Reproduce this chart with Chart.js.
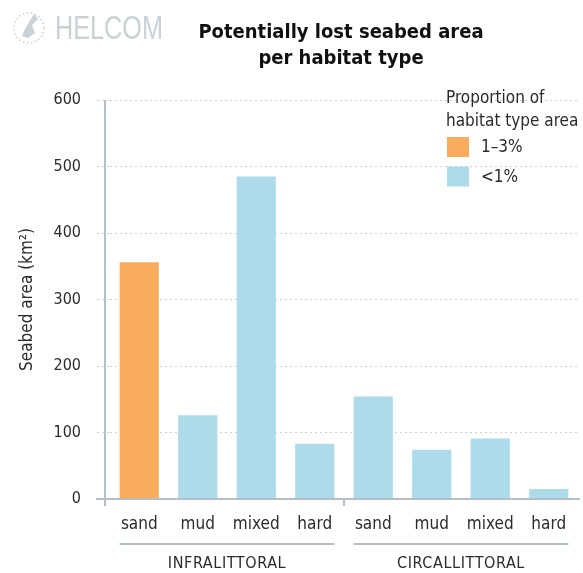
<!DOCTYPE html>
<html>
<head>
<meta charset="utf-8">
<script src="https://cdn.jsdelivr.net/npm/chart.js@4.4.1/dist/chart.umd.min.js"></script>
<style>
  html, body { margin: 0; padding: 0; background: #ffffff; }
  #wrap { width: 583px; height: 573px; position: relative; }
</style>
</head>
<body>
<div id="wrap"><canvas id="c" width="583" height="573"></canvas></div>
<script>
// ---- data ----
const categories = ['sand', 'mud', 'mixed', 'hard', 'sand', 'mud', 'mixed', 'hard'];
const seabedArea = [356, 126, 485, 83, 154, 74, 91, 15];
const proportionClass = ['1–3%', '<1%', '<1%', '<1%', '<1%', '<1%', '<1%', '<1%'];
const groupNames = ['INFRALITTORAL', 'CIRCALLITTORAL'];
const groupSizes = [4, 4];
const legendLabels = ['1–3%', '<1%'];
const legendTitle = ['Proportion of', 'habitat type area'];
const titleLines = ['Potentially lost seabed area', 'per habitat type'];
const yAxisTitle = 'Seabed area (km²)';
const yMin = 0, yMax = 600, yStep = 100;

// ---- styles ----
const classColors = { '1–3%': '#F9AC5E', '<1%': '#ADDBEA' };
const FONT = "'DejaVu Sans Condensed', 'DejaVu Sans', sans-serif";
const TEXT = '#2b2b2b';
const AXIS = '#b3bec6';

const decorPlugin = {
  id: 'decor',
  afterDraw(chart) {
    const ctx = chart.ctx;
    const ca = chart.chartArea;
    const y = chart.scales.y;
    const meta = chart.getDatasetMeta(0);
    const y0 = y.getPixelForValue(0);
    ctx.save();
    // axis lines
    ctx.strokeStyle = AXIS;
    ctx.lineWidth = 2;
    const axX = ca.left - 5;
    ctx.beginPath();
    ctx.moveTo(axX, y.getPixelForValue(yMax));
    ctx.lineTo(axX, y0 + 7);
    ctx.stroke();
    ctx.beginPath();
    ctx.moveTo(ca.left - 14, y0);
    ctx.lineTo(ca.right + 2, y0);
    ctx.stroke();
    // group divider tick + group lines + labels
    let start = 0;
    groupSizes.forEach((n, gi) => {
      const first = meta.data[start], last = meta.data[start + n - 1];
      const x1 = first.x - first.width / 2, x2 = last.x + last.width / 2;
      if (gi > 0) {
        const prev = meta.data[start - 1];
        const mid = (prev.x + first.x) / 2;
        ctx.beginPath();
        ctx.moveTo(mid, y0);
        ctx.lineTo(mid, y0 + 7);
        ctx.stroke();
      }
      ctx.beginPath();
      ctx.moveTo(x1, y0 + 45);
      ctx.lineTo(x2, y0 + 45);
      ctx.stroke();
      ctx.fillStyle = TEXT;
      ctx.font = "16px " + FONT;
      ctx.letterSpacing = '0.6px';
      ctx.textAlign = 'center';
      ctx.textBaseline = 'middle';
      ctx.fillText(groupNames[gi], (x1 + x2) / 2, y0 + 65);
      ctx.letterSpacing = '0px';
      start += n;
    });
    // title
    ctx.fillStyle = '#111111';
    ctx.font = "bold 20px " + FONT;
    ctx.textAlign = 'center';
    ctx.textBaseline = 'alphabetic';
    ctx.fillText(titleLines[0], 341, 38);
    ctx.fillText(titleLines[1], 341, 64);
    // HELCOM logo text (horizontally condensed)
    ctx.fillStyle = '#cbd2d6';
    ctx.font = "33px 'Liberation Sans', sans-serif";
    ctx.textAlign = 'left';
    const w = ctx.measureText('HELCOM').width;
    ctx.save();
    ctx.translate(55, 39);
    ctx.scale(108 / w, 1);
    ctx.fillText('HELCOM', 0, 0);
    ctx.restore();
    // simple emblem
    ctx.strokeStyle = '#cbd2d6';
    ctx.lineWidth = 1.5;
    ctx.setLineDash([1.5, 2.5]);
    ctx.beginPath();
    ctx.arc(29, 28, 15, 0, Math.PI * 2);
    ctx.stroke();
    ctx.setLineDash([]);
    ctx.fillStyle = '#cbd2d6';
    ctx.beginPath();
    ctx.moveTo(34, 14); ctx.lineTo(38, 19); ctx.lineTo(32, 25); ctx.lineTo(35, 33);
    ctx.lineTo(28, 38); ctx.lineTo(22, 36); ctx.lineTo(25, 29); ctx.lineTo(29, 22);
    ctx.closePath(); ctx.fill();
    // legend
    ctx.fillStyle = TEXT;
    ctx.font = "17px " + FONT;
    ctx.textAlign = 'left';
    ctx.fillText(legendTitle[0], 446, 103);
    ctx.fillText(legendTitle[1], 446, 126);
    legendLabels.forEach((lab, i) => {
      const top = 137 + i * 29.5;
      ctx.fillStyle = classColors[lab];
      ctx.fillRect(447, top, 22, 20);
      ctx.fillStyle = TEXT;
      ctx.textBaseline = 'middle';
      ctx.fillText(lab, 481, top + 11);
    });
    ctx.restore();
  }
};

new Chart(document.getElementById('c'), {
  type: 'bar',
  data: {
    labels: categories,
    datasets: [{
      data: seabedArea,
      backgroundColor: proportionClass.map(c => classColors[c]),
      borderWidth: 0,
      barPercentage: 0.67,
      categoryPercentage: 1.0
    }]
  },
  options: {
    responsive: false,
    animation: false,
    devicePixelRatio: 1,
    layout: { padding: { top: 100, right: 5, left: 0, bottom: 0 } },
    plugins: { legend: { display: false }, tooltip: { enabled: false }, title: { display: false } },
    scales: {
      x: {
        grid: { display: false },
        border: { display: false },
        ticks: { color: TEXT, font: { family: FONT, size: 17 }, padding: 7, maxRotation: 0 },
        afterFit(s) { s.height = 74; }
      },
      y: {
        min: yMin, max: yMax,
        ticks: { stepSize: yStep, color: TEXT, font: { family: FONT, size: 16 }, padding: 16 },
        grid: { color: '#cfcfcf', lineWidth: 1, tickLength: 13, tickColor: '#cfcfcf', tickBorderDash: [2, 3] },
        border: { display: false, dash: [2, 3] },
        title: { display: true, text: yAxisTitle, color: TEXT, font: { family: FONT, size: 17 }, padding: { top: 17, bottom: 0 } },
        afterFit(s) { s.width = 110; }
      }
    }
  },
  plugins: [decorPlugin]
});
</script>
</body>
</html>
